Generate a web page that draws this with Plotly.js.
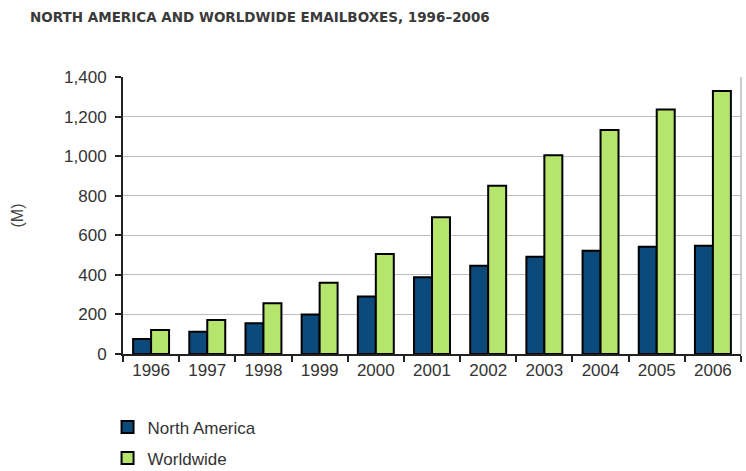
<!DOCTYPE html>
<html>
<head>
<meta charset="utf-8">
<script src="https://cdn.plot.ly/plotly-3.0.1.min.js"></script>
<style>html,body{margin:0;padding:0;background:#fff;}#chart{width:746px;height:471px;}</style>
</head>
<body>
<div id="chart"></div>
<script>
const years = ["1996","1997","1998","1999","2000","2001","2002","2003","2004","2005","2006"];
const northAmerica = [76, 113, 155, 200, 290, 388, 446, 492, 522, 542, 547];
const worldwide = [121, 172, 256, 360, 505, 691, 850, 1005, 1132, 1236, 1329];
const yTicks = [0, 200, 400, 600, 800, 1000, 1200, 1400];
const yTickText = ["0", "200", "400", "600", "800", "1,000", "1,200", "1,400"];

const traces = [
  {type: "bar", name: "North America", x: years, y: northAmerica, legendgroup: "na",
   marker: {color: "#0c4a7c", line: {color: "#000", width: 2}}},
  {type: "bar", name: "Worldwide", x: years, y: worldwide, legendgroup: "ww",
   marker: {color: "#b6e56e", line: {color: "#000", width: 2}}}
];

const layout = {
  width: 746, height: 471,
  paper_bgcolor: "#fff", plot_bgcolor: "#fff",
  margin: {l: 123, r: 5, t: 77, b: 117, autoexpand: false},
  barmode: "group", bargap: 0.36, bargroupgap: 0,
  showlegend: true,
  title: {text: "NORTH AMERICA AND WORLDWIDE EMAILBOXES, 1996\u20132006",
          font: {family: "DejaVu Sans", size: 13.5, color: "#3a3a3a", weight: "bold"},
          x: 30/746, xanchor: "left", y: 1 - 17/471, yanchor: "middle"},
  font: {family: "Liberation Sans, Arial, sans-serif", size: 17, color: "#333"},
  xaxis: {type: "category", showline: true, linecolor: "#222", linewidth: 2,
          ticks: "outside", tickson: "boundaries", ticklen: 6, tickcolor: "#222", tickwidth: 2,
          showgrid: false, tickfont: {size: 17, color: "#333"}, fixedrange: true},
  yaxis: {range: [0, 1400], tickvals: yTicks, ticktext: yTickText,
          showline: true, linecolor: "#222", linewidth: 2,
          ticks: "outside", ticklen: 6, tickcolor: "#222", tickwidth: 2,
          ticklabelstandoff: 5,
          showgrid: true, gridcolor: "#bdbdbd", gridwidth: 1, zeroline: false,
          tickfont: {size: 17, color: "#333"},
          title: {text: "(M)", font: {size: 16, color: "#444"}, standoff: 36}},
  legend: {orientation: "v", x: -0.025, xanchor: "left",
           yref: "container", y: 0.1308, yanchor: "top",
           font: {size: 17, color: "#333"}, tracegroupgap: 6, bgcolor: "rgba(0,0,0,0)"},
  shapes: [{type: "line", xref: "paper", yref: "paper", x0: 1, x1: 1, y0: 0, y1: 1,
            line: {color: "#999", width: 1}}]
};

Plotly.newPlot("chart", traces, layout, {displayModeBar: false, staticPlot: true});
</script>
</body>
</html>
